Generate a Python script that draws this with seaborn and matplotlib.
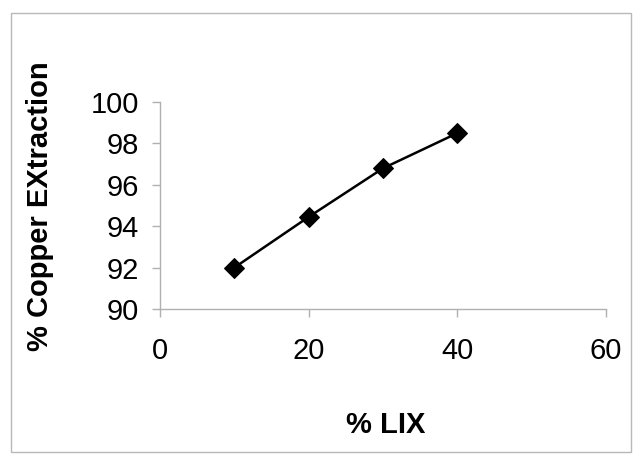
import pandas as pd
import matplotlib.pyplot as plt
import seaborn as sns
from matplotlib.patches import Rectangle

# Data
lix = [10, 20, 30, 40]
extraction = [92.0, 94.45, 96.8, 98.5]
x_ticks = [0, 20, 40, 60]
y_ticks = [90, 92, 94, 96, 98, 100]

df = pd.DataFrame({"LIX": lix, "Extraction": extraction})

sns.set_style("white")
plt.rcParams["font.family"] = ["Liberation Sans", "DejaVu Sans"]

fig = plt.figure(figsize=(6.4, 4.65), dpi=100)
ax = fig.add_axes([0.25, 0.3355, 0.697, 0.445])

sns.lineplot(data=df, x="LIX", y="Extraction", ax=ax, color="black",
             marker="D", markersize=10, linewidth=1.8, markeredgecolor="black")

ax.set_xlim(0, 60)
ax.set_ylim(90, 100)
ax.set_xticks(x_ticks)
ax.set_yticks(y_ticks)
ax.tick_params(axis="both", labelsize=21, length=6, width=1, color="#b0b0b0",
               labelcolor="black", direction="out", bottom=True, left=True)
ax.tick_params(axis="x", pad=14)
ax.tick_params(axis="y", pad=9)
for side in ["top", "right"]:
    ax.spines[side].set_visible(False)
for side in ["left", "bottom"]:
    ax.spines[side].set_color("#b0b0b0")
    ax.spines[side].set_linewidth(1)

ax.set_xlabel("")
ax.set_ylabel("")
fig.text(0.603, 0.086, "% LIX", fontsize=21, fontweight="bold", color="black",
         ha="center", va="center")
fig.text(0.063, 0.557, "% Copper EXtraction", fontsize=21, fontweight="bold",
         color="black", rotation=90, ha="center", va="center")

# outer frame
fig.patches.append(Rectangle((0.017, 0.027), 0.969, 0.945, transform=fig.transFigure,
                             fill=False, edgecolor="#b8b8b8", linewidth=1))

fig.savefig("out.png", dpi=100)
